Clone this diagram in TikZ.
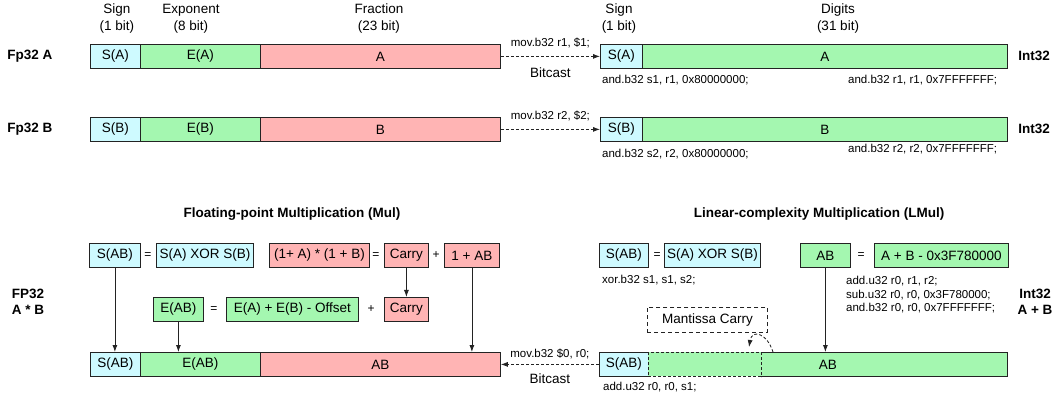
\documentclass[tikz,border=0pt]{standalone}
\usepackage{fontspec}
\setmainfont{Liberation Sans}
\usetikzlibrary{arrows.meta}
\definecolor{cyanf}{RGB}{206,250,255}
\definecolor{greenf}{RGB}{164,247,176}
\definecolor{redf}{RGB}{255,180,180}
\definecolor{edge}{RGB}{35,35,35}
\newcommand{\myfs}[2]{\fontsize{#1}{#2}\selectfont}
\begin{document}
\begin{tikzpicture}[x=1pt, y=-1pt,
 cell/.style={draw=edge, line width=0.8pt, inner sep=0pt, minimum height=24pt, anchor=north west, font=\myfs{13.5}{15}, text=black},
 cy/.style={cell, fill=cyanf},
 gn/.style={cell, fill=greenf},
 rd/.style={cell, fill=redf},
 hdr/.style={font=\myfs{13.5}{17}, align=center, inner sep=0pt},
 lbl/.style={font=\bfseries\myfs{13.5}{16}, align=center, inner sep=0pt},
 code/.style={font=\myfs{11.5}{13.5}, align=left, inner sep=0pt, anchor=west},
 op/.style={font=\myfs{12}{14}, inner sep=0pt},
 edgeline/.style={draw=edge, line width=0.8pt},
 dashedge/.style={draw=edge, line width=0.8pt, dash pattern=on 3pt off 2pt},
 arr/.style={draw=edge, line width=0.8pt, -{Latex[length=7pt,width=5pt]}},
 bitcast/.style={arr, dash pattern=on 3pt off 2pt},
]
\useasboundingbox (0,0) rectangle (1058,398);

% headers
\node[hdr] (hsign) at (117,18.5) {Sign\\(1 bit)};
\node[hdr] (hexp) at (191,18.5) {Exponent\\(8 bit)};
\node[hdr] (hfrac) at (379,18.5) {Fraction\\(23 bit)};
\node[hdr] (hsign2) at (619,18.5) {Sign\\(1 bit)};
\node[hdr] (hdig) at (838,18.5) {Digits\\(31 bit)};

% Fp32 A / B
\node[lbl] (lA) at (30,56) {Fp32 A};
\node[lbl] (lB) at (30,129) {Fp32 B};
\node[cy, minimum width=50pt] (sA) at (90,44) {S(A)};
\node[gn, minimum width=120pt] (eA) at (140,44) {E(A)};
\node[rd, minimum width=240pt] (fA) at (260,44) {A};
\node[cy, minimum width=50pt] (sB) at (90,117) {S(B)};
\node[gn, minimum width=120pt] (eB) at (140,117) {E(B)};
\node[rd, minimum width=240pt] (fB) at (260,117) {B};

% Int32 A / B
\node[cy, minimum width=42pt] (sA2) at (600,44) {S(A)};
\node[gn, minimum width=365pt] (dA) at (642,44) {A};
\node[cy, minimum width=42pt] (sB2) at (600,117) {S(B)};
\node[gn, minimum width=365pt] (dB) at (642,117) {B};
\node[lbl] (iA) at (1034,56) {Int32};
\node[lbl] (iB) at (1034,129) {Int32};

\draw[bitcast] (fA.east) -- node[code, anchor=center, yshift=13pt] (movA) {mov.b32 r1, \$1;}
  node[hdr, yshift=-16pt] (bcA) {Bitcast} (sA2.west);
\draw[bitcast] (fB.east) -- node[code, anchor=center, yshift=13pt] (movB) {mov.b32 r2, \$2;} (sB2.west);

\node[code] (cA1) at (602,80) {and.b32 s1, r1, 0x80000000;};
\node[code] (cA2) at (848,80) {and.b32 r1, r1, 0x7FFFFFFF;};
\node[code] (cB1) at (602,154) {and.b32 s2, r2, 0x80000000;};
\node[code] (cB2) at (848,149) {and.b32 r2, r2, 0x7FFFFFFF;};

% titles
\node[lbl] (t1) at (292,214) {Floating-point Multiplication (Mul)};
\node[lbl] (t2) at (819,214) {Linear-complexity Multiplication (LMul)};

% Mul equations
\node[cy, minimum width=51pt] (sAB1) at (89,243) {S(AB)};
\node[op] (eq1) at (148,256) {=};
\node[cy, minimum width=97pt] (xor1) at (156,243) {S(A) XOR S(B)};
\node[rd, minimum width=100pt] (prod) at (269,243) {(1+ A) * (1 + B)};
\node[op] (eq2) at (376,256) {=};
\node[rd, minimum width=44pt] (car1) at (384,243) {Carry};
\node[op] (pl1) at (436,255) {+};
\node[rd, minimum width=55pt] (oneab) at (444,243) {1 + AB};

\node[gn, minimum width=50pt] (eAB) at (153,297) {E(AB)};
\node[op] (eq3) at (214,310) {=};
\node[gn, minimum width=132pt] (esum) at (226,297) {E(A) + E(B) - Offset};
\node[op] (pl2) at (371,309) {+};
\node[rd, minimum width=44pt] (car2) at (384,297) {Carry};

\node[lbl] (lfp) at (28,302) {FP32\\A * B};

\node[cy, minimum width=50pt] (sABb) at (90,352) {S(AB)};
\node[gn, minimum width=120pt] (eABb) at (140,352) {E(AB)};
\node[rd, minimum width=240pt] (ABb) at (260,352) {AB};

\draw[arr] (sAB1.south) -- (sAB1.south |- sABb.north);
\draw[arr] (eAB.south) -- (eAB.south |- eABb.north);
\draw[arr] (car1.south) -- (car2.north);
\draw[arr] (oneab.south) -- (oneab.south |- ABb.north);

% LMul equations
\node[cy, minimum width=49pt] (sAB2) at (599,243) {S(AB)};
\node[op] (eq4) at (657,256) {=};
\node[cy, minimum width=96pt] (xor2) at (664,243) {S(A) XOR S(B)};
\node[code] (cx) at (602,280) {xor.b32 s1, s1, s2;};
\node[gn, minimum width=50pt] (ABt) at (800,243) {AB};
\node[op] (eq5) at (861,256) {=};
\node[gn, minimum width=134pt] (apb) at (874,243) {A + B - 0x3F780000};
\node[code] (cadd) at (846,295) {add.u32 r0, r1, r2;\\sub.u32 r0, r0, 0x3F780000;\\and.b32 r0, r0, 0x7FFFFFFF;};
\node[lbl] (li) at (1035,302) {Int32\\A + B};

% LMul result bar
\node[cell, fill=cyanf, draw=none, minimum width=49pt] (sABr) at (599,352) {S(AB)};
\node[cell, fill=greenf, draw=none, minimum width=359pt] (ABr) at (648,352) {AB};
\coordinate (mcut) at (761,352);
\draw[edgeline] (sABr.north east) -- (sABr.north west) -- (sABr.south west) -- (sABr.south east);
\draw[dashedge] (ABr.north west) rectangle (ABr.south west -| mcut);
\draw[edgeline] (mcut) -- (ABr.north east) -- (ABr.south east) -- (ABr.south west -| mcut);

\draw[arr] (ABt.south) -- (ABt.south |- ABr.north);

\node[cell, dashedge, dash pattern=on 4pt off 3pt, minimum width=120pt, minimum height=25pt] (mc) at (647,307) {Mantissa Carry};
\coordinate (mcs) at (773,352);
\coordinate (mce) at (749,347);
\draw[arr, dash pattern=on 3pt off 2pt] (mcs) .. controls (767,333) and (752,329) .. (mce);

\draw[bitcast] (sABr.west) -- node[code, anchor=center, yshift=10pt] (movr) {mov.b32 \$0, r0;}
  node[hdr, yshift=-14pt] (bcr) {Bitcast} (ABb.east);
\node[code] (cadd2) at (603,387) {add.u32 r0, r0, s1;};

\end{tikzpicture}
\end{document}
